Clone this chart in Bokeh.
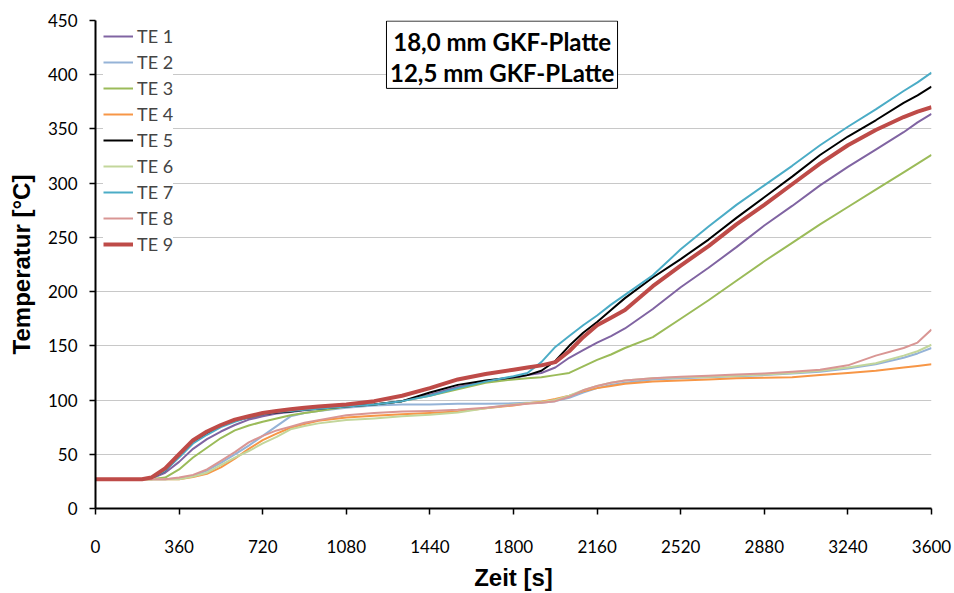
from bokeh.plotting import figure
from bokeh.models import Range1d, FixedTicker, Legend, LegendItem, BoxAnnotation, Label
from bokeh.embed import file_html
from bokeh.resources import INLINE

# ---- data ----
time_s = [0, 120, 200, 240, 300, 360, 420, 480, 540, 600, 660, 720, 780, 840, 900, 960,
          1080, 1200, 1320, 1440, 1560, 1680, 1800, 1860, 1920, 1980, 2040, 2100, 2160,
          2220, 2280, 2400, 2520, 2640, 2760, 2880, 3000, 3120, 3240, 3360, 3480, 3540, 3600]

te1 = [27, 27, 27, 27.5, 33, 43, 55, 64, 71, 77, 82, 85, 87.5, 89, 90.5, 92,
       94, 96, 99, 105, 112, 117, 120, 123, 125, 130, 139, 146, 153,
       159, 166, 184, 204, 222, 241, 261, 279, 298, 315, 331, 347, 356, 364]
te2 = [27, 27, 27, 27, 27, 28, 30, 35, 42, 50, 58, 67, 76, 85, 88, 90,
       93, 95, 96, 96, 96.5, 96.5, 97, 97.5, 97.5, 99, 102, 107, 111,
       114, 116, 119, 120, 121, 122, 123, 124.5, 126, 129, 133, 139, 143, 148]
te3 = [27, 27, 27, 27, 28.5, 36, 47, 56, 65, 72, 76.5, 80, 83, 86, 88, 90,
       94, 96, 99, 104, 110, 116, 119, 120, 121, 123, 125, 131, 137,
       142, 148, 158, 175, 192, 210, 228, 245, 262, 278, 294, 310, 318, 326]
te4 = [27, 27, 27, 27, 27, 27, 29, 32, 38, 46, 55, 63, 69, 74.5, 78, 81,
       84, 85.5, 87, 88, 89.5, 92.5, 95, 97, 98.5, 101, 104, 108, 111,
       113, 115, 117, 118, 119, 120, 120.5, 121, 123, 125, 127, 130, 131.5, 133]
te5 = [27, 27, 27, 28, 35, 48, 61, 69, 76, 81, 84, 87, 88.5, 89.5, 91, 92,
       94, 96, 99, 107, 114, 118, 121, 123, 127, 136, 150, 162, 172,
       183, 194, 213, 230, 248, 268, 287, 306, 326, 343, 358, 374, 381, 389]
te6 = [27, 27, 27, 27, 27, 27, 29.5, 33, 40, 47, 53, 60, 66, 73, 76, 78.5,
       81.5, 83, 85, 86.5, 88.5, 92.5, 96, 97, 98, 100, 104, 109, 113,
       116, 118, 120, 121, 121.5, 122.5, 123.5, 125, 127, 130, 134, 141, 145, 151]
te7 = [27, 27, 27, 28, 35, 47, 60, 68, 75, 80, 84, 87, 89, 90, 91, 92,
       94, 96, 99, 104, 111, 117, 122, 125, 135, 149, 159, 169, 178,
       188, 197, 215, 239, 260, 280, 298, 316, 335, 352, 368, 385, 393, 402]
te8 = [27, 27, 27, 27, 27, 28.5, 31, 36, 44, 52, 61, 67, 72, 75.5, 79, 81.5,
       86, 88, 89.5, 90, 91, 93, 95.5, 96.5, 97.5, 99, 103, 109, 113,
       116, 118, 120, 121.5, 122.5, 123.5, 124.5, 126, 128, 132, 141, 148, 153, 165]
te9 = [27, 27, 27, 28.5, 37, 50, 63, 71, 77, 82, 85, 88, 90, 91.5, 93, 94,
       96, 99, 104, 111, 119, 124, 128, 130, 132, 135, 145, 158, 169,
       176, 183, 205, 224, 242, 262, 280, 299, 318, 335, 349, 361, 366, 370]

series_names = ["TE 1", "TE 2", "TE 3", "TE 4", "TE 5", "TE 6", "TE 7", "TE 8", "TE 9"]
series_values = [te1, te2, te3, te4, te5, te6, te7, te8, te9]
series_colors = ["#8064A2", "#95B3D7", "#9BBB59", "#F79646", "#000000",
                 "#C3D69B", "#4BACC6", "#D99694", "#BE4B48"]
series_widths = [2, 2, 2, 2, 2, 2, 2, 2, 4]

x_ticks = [0, 360, 720, 1080, 1440, 1800, 2160, 2520, 2880, 3240, 3600]
y_ticks = [0, 50, 100, 150, 200, 250, 300, 350, 400, 450]

box_lines = ["18,0 mm GKF-Platte", "12,5 mm GKF-PLatte"]

# ---- figure ----
W, H = 954, 593
ML, MR, MT, MB = 95, 23, 20, 84
p = figure(width=W, height=H, output_backend="svg", toolbar_location=None,
           x_range=Range1d(0, 3600), y_range=Range1d(0, 450),
           min_border_left=ML, min_border_right=MR, min_border_top=MT, min_border_bottom=MB)
p.outline_line_color = None
p.background_fill_color = "white"
p.border_fill_color = "white"

p.xgrid.visible = False
p.ygrid.grid_line_color = "#C8C8C8"
p.ygrid.grid_line_width = 1

p.xaxis.ticker = FixedTicker(ticks=x_ticks)
p.yaxis.ticker = FixedTicker(ticks=y_ticks)
for ax in (p.xaxis, p.yaxis):
    ax.axis_line_color = "black"
    ax.axis_line_width = 2
    ax.major_tick_line_color = "black"
    ax.major_tick_line_width = 1.5
    ax.major_tick_in = 0
    ax.major_tick_out = 6
    ax.minor_tick_line_color = None
    ax.major_label_text_font = "Lato"
    ax.major_label_text_font_size = "17px"
    ax.major_label_text_color = "black"
    ax.axis_label_text_font = "Liberation Sans"
    ax.axis_label_text_font_style = "bold"
    ax.axis_label_text_font_size = "24px"
    ax.axis_label_text_color = "black"

p.xaxis.axis_label = "Zeit [s]"
p.yaxis.axis_label = "Temperatur [°C]"
p.xaxis.major_label_standoff = 25
p.yaxis.major_label_standoff = 12
p.xaxis.axis_label_standoff = 8
p.yaxis.axis_label_standoff = 10

items = []
for name, vals, col, w in zip(series_names, series_values, series_colors, series_widths):
    r = p.line(time_s, vals, line_color=col, line_width=w, line_join="round")
    items.append(LegendItem(label=name, renderers=[r]))

frame_h = H - MT - MB
leg_pad, leg_item_h, leg_space = 6, 22, 4
leg_h = 2 * leg_pad + 9 * leg_item_h + 8 * leg_space
legend = Legend(items=items, location=(8, frame_h - leg_h + 6), padding=leg_pad, spacing=leg_space,
                glyph_width=30, glyph_height=leg_item_h, label_height=leg_item_h, label_standoff=4,
                label_text_font="Lato", label_text_font_size="18px",
                border_line_color=None, background_fill_color="white",
                background_fill_alpha=1.0)
p.add_layout(legend)

box = BoxAnnotation(left=1253, right=2248, top=449.5, bottom=387.4,
                    fill_color="white", fill_alpha=1.0,
                    line_color="black", line_width=1, line_alpha=1.0)
p.add_layout(box)
for txt, yv in zip(box_lines, [431, 402]):
    p.add_layout(Label(x=1751, y=yv, text=txt, text_align="center", text_baseline="middle",
                       text_font="Lato", text_font_style="bold", text_font_size="24px",
                       text_color="black"))

open("out.html", "w").write(file_html(p, INLINE))
